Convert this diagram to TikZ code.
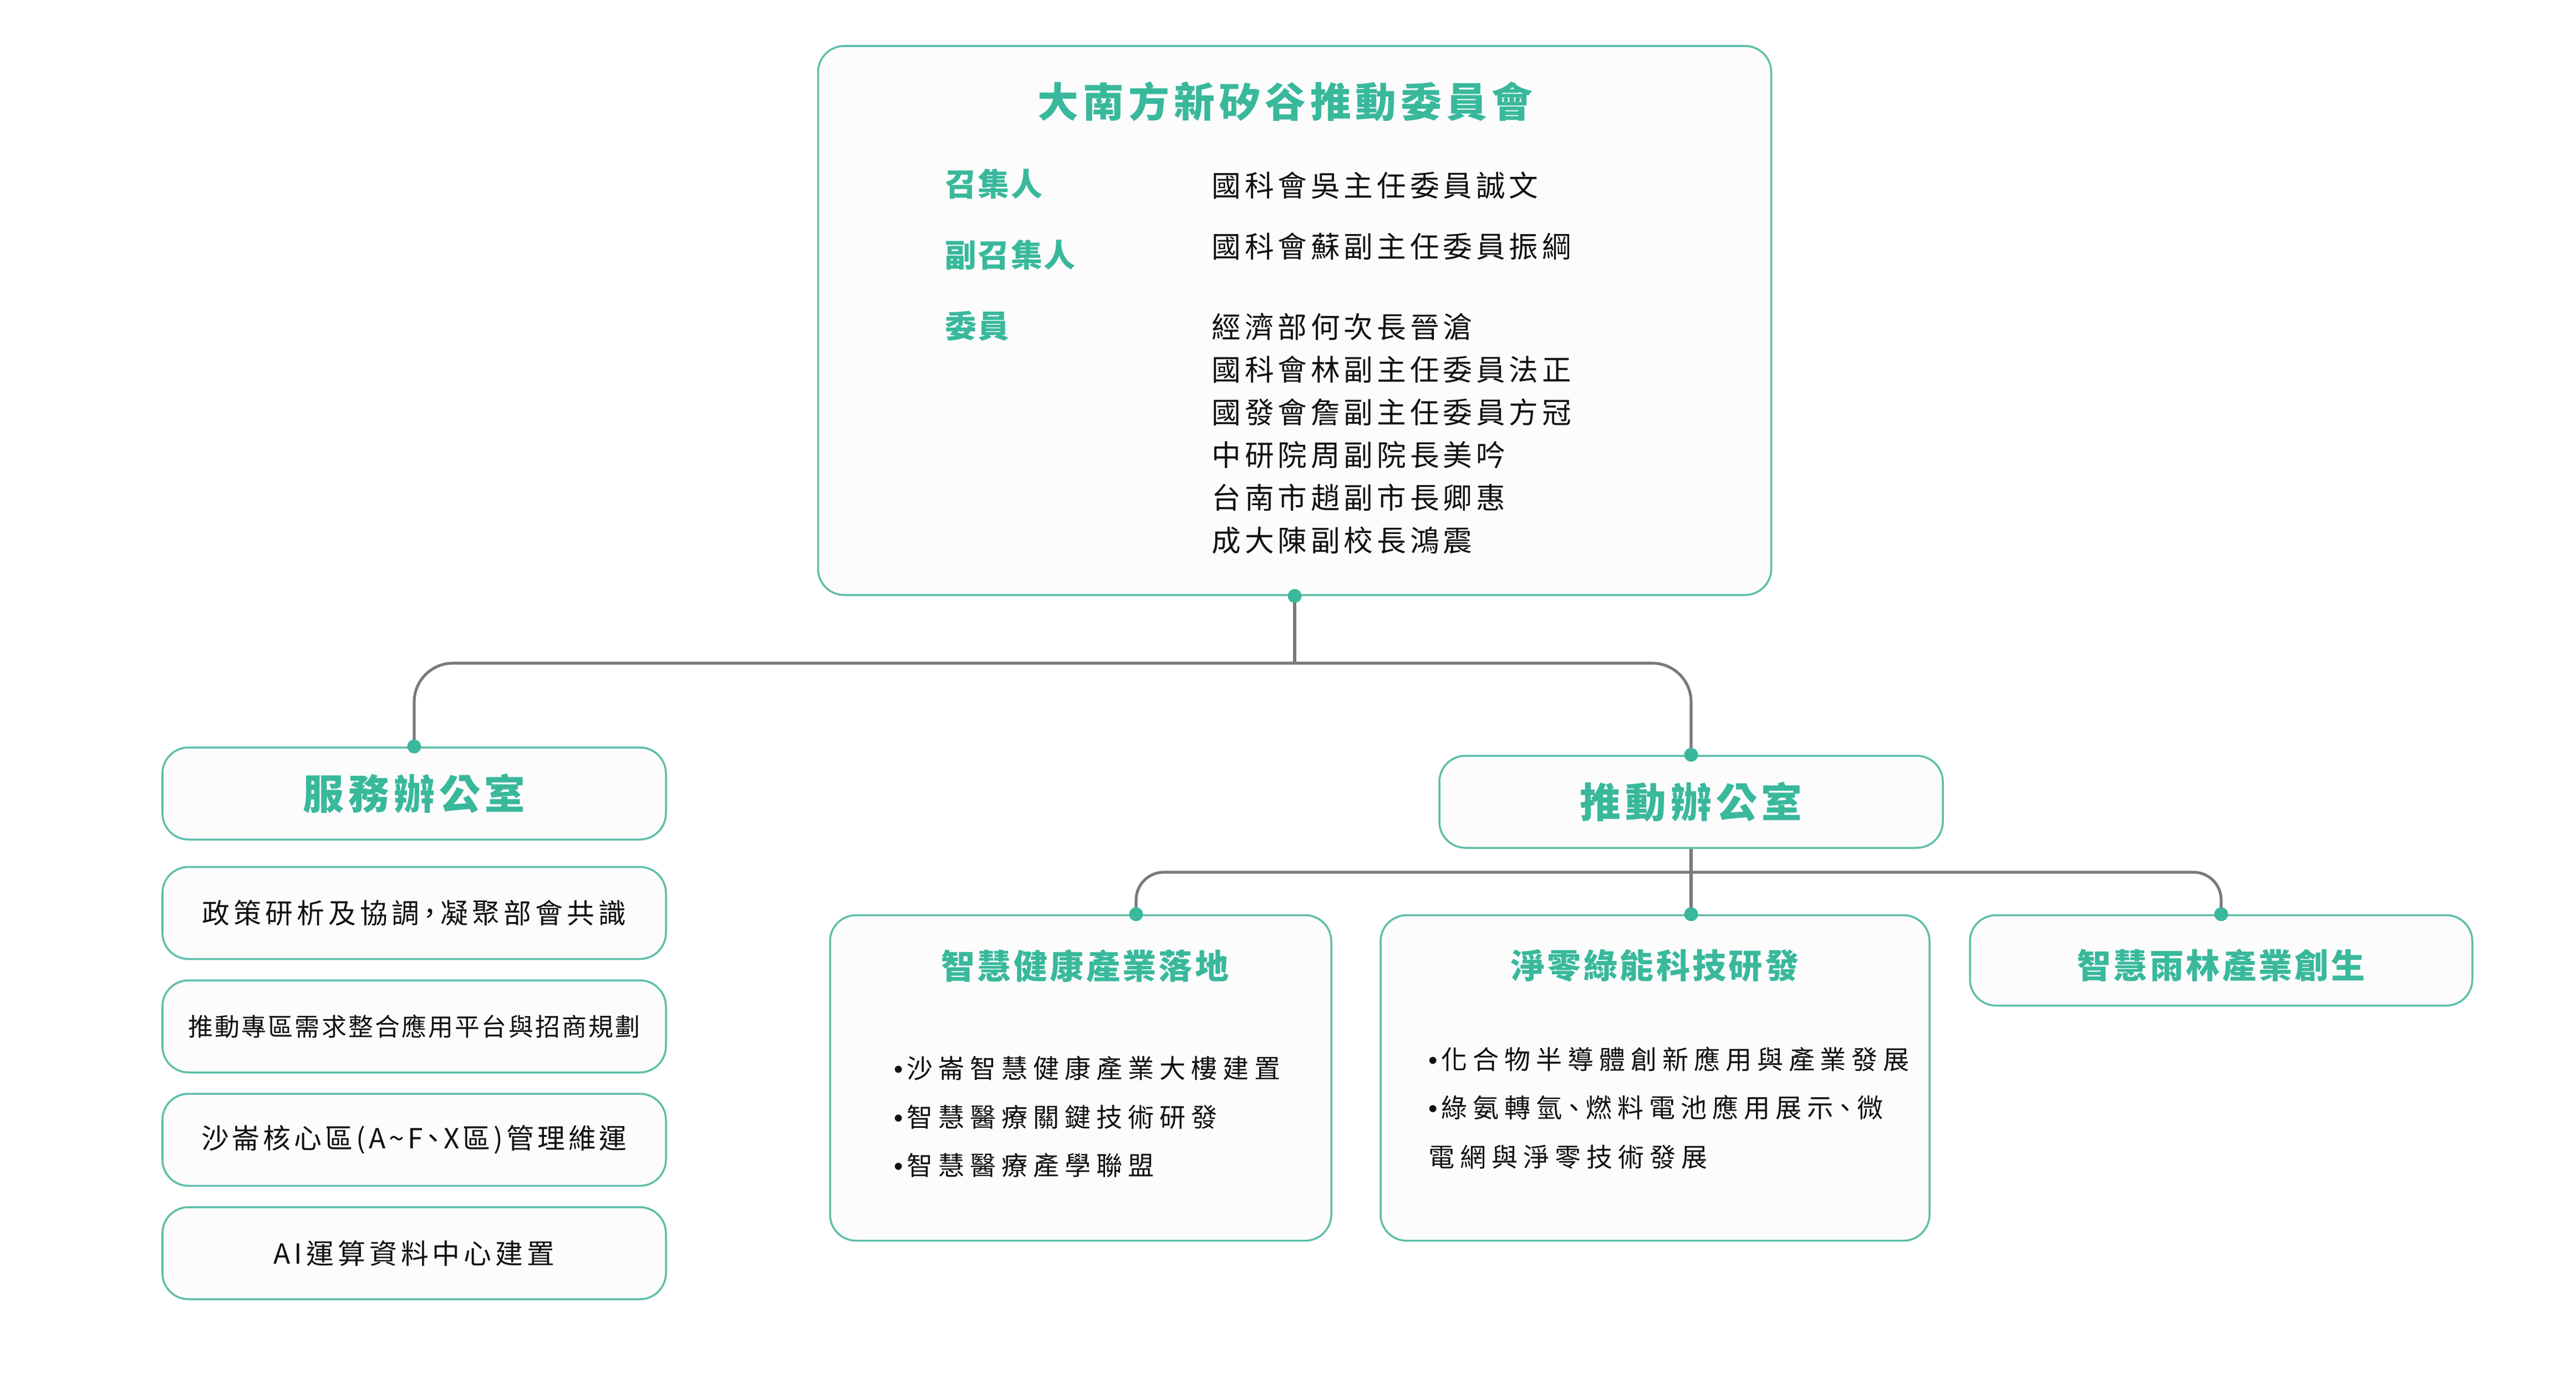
\documentclass[tikz,border=0pt]{standalone}
\usepackage{fontspec}
\setmainfont{Noto Sans CJK TC}
\newfontfamily\dotfont{Liberation Sans}
\usetikzlibrary{positioning}

\definecolor{leafgreen}{HTML}{39B89C}
\definecolor{boxline}{HTML}{5EBEAA}
\definecolor{boxfill}{HTML}{FCFCFC}
\definecolor{conngray}{HTML}{7A7A7A}
\definecolor{inkblack}{HTML}{111111}

% size, baseline skip, letter spacing
\newcommand\spaced[3]{\fontsize{#1}{#2}\selectfont\addfontfeature{LetterSpace=#3}}
\newcommand\narrowpunct{\addfontfeature{RawFeature=+palt}}
\newcommand\itemdot{{\dotfont •}\hspace{0.6mm}}

\tikzset{
  panel/.style={draw=boxline, line width=1pt, fill=boxfill, rounded corners=4.7mm, inner sep=0pt},
  unitbox/.style={panel, minimum width=9.08cm, minimum height=1.66cm},
  headtext/.style={text=leafgreen, font=\bfseries\spaced{21}{25}{11}},
  subhead/.style={text=leafgreen, font=\bfseries\spaced{17.4}{21}{7}},
  rolelabel/.style={text=leafgreen, anchor=west, inner sep=0pt, font=\bfseries\spaced{16.2}{19}{4}},
  member/.style={text=inkblack, anchor=west, inner sep=0pt, font=\spaced{15}{18}{13}},
  task/.style={text=inkblack, font=\spaced{14.2}{17}{14}\narrowpunct},
  point/.style={text=inkblack, anchor=west, inner sep=0pt, font=\spaced{13.4}{16}{21}\narrowpunct},
  conn/.style={draw=conngray, line width=1.45pt},
  joint/.style={circle, fill=leafgreen, inner sep=0pt, minimum size=2.5mm},
}

\begin{document}
\begin{tikzpicture}
	\path[fill=white] (0,0) rectangle (46.46,-25.05);

	% committee
	\node[panel, minimum width=17.19cm, minimum height=9.90cm] (board) at (23.35,-5.78) {};
	\node[headtext, inner sep=0pt] (boardtitle) at (23.18,-1.83) {大南方新矽谷推動委員會};
	\node[rolelabel] (convener) at (17.04,-3.32) {召集人};
	\node[rolelabel] (deputy) at (17.04,-4.60) {副召集人};
	\node[rolelabel] (members) at (17.04,-5.88) {委員};
	\node[member] (convname) at (21.85,-3.35) {國科會吳主任委員誠文};
	\node[member] (depname) at (21.85,-4.44) {國科會蘇副主任委員振綱};
	\foreach \who [count=\i] in {經濟部何次長晉滄, 國科會林副主任委員法正, 國發會詹副主任委員方冠, 中研院周副院長美吟, 台南市趙副市長卿惠, 成大陳副校長鴻震}
		\node[member] (m\i) at (21.85,{-5.12-0.77*\i}) {\who};

	% offices
	\node[unitbox, headtext] (serv) at (7.47,-14.31) {服務辦公室};
	\node[unitbox, task, below=4.6mm of serv] (task1) {政策研析及協調，凝聚部會共識};
	\node[unitbox, task, below=3.5mm of task1, font=\spaced{12.8}{15}{7}] (task2) {推動專區需求整合應用平台與招商規劃};
	\node[unitbox, task, below=3.5mm of task2, font=\spaced{14.2}{17}{12}\narrowpunct] (task3) {沙崙核心區(A\textasciitilde F、X區)管理維運};
	\node[unitbox, task, below=3.5mm of task3] (task4) {AI運算資料中心建置};

	\node[unitbox, headtext] (push) at (30.50,-14.46) {推動辦公室};

	% programmes
	\node[panel, minimum width=9.04cm, minimum height=5.87cm] (health) at (19.49,-19.44) {};
	\node[panel, minimum width=9.90cm, minimum height=5.87cm] (zero) at (29.85,-19.44) {};
	\node[unitbox, minimum width=9.06cm, minimum height=1.63cm] (rain) at (40.06,-17.32) {};
	\node[subhead, inner sep=0pt] (healthtitle) at (19.57,-17.42) {智慧健康產業落地};
	\node[subhead, inner sep=0pt] (zerotitle) at (29.85,-17.42) {淨零綠能科技研發};
	\node[subhead, inner sep=0pt] (raintitle) at ([yshift=-9.2mm]rain.north) {智慧雨林產業創生};

	\node[point] (h1) at (16.12,-19.27) {\itemdot 沙崙智慧健康產業大樓建置};
	\node[point] (h2) at (16.12,-20.15) {\itemdot 智慧醫療關鍵技術研發};
	\node[point] (h3) at (16.12,-21.02) {\itemdot 智慧醫療產學聯盟};
	\node[point] (z1) at (25.76,-19.10) {\itemdot 化合物半導體創新應用與產業發展};
	\node[point] (z2) at (25.76,-19.97) {\itemdot 綠氨轉氫、燃料電池應用展示、微};
	\node[point] (z3) at (25.76,-20.87) {電網與淨零技術發展};

	% connectors
	\coordinate (bus1) at (board.south |- 0,-11.96);
	\draw[conn] (board.south) -- (bus1);
	\draw[conn, rounded corners=7mm] (serv.north) |- (bus1) -| (push.north);
	\coordinate (bus2) at (push.south |- 0,-15.73);
	\coordinate (hdot) at ([xshift=10mm]health.north);
	\coordinate (zdot) at (push.south |- zero.north);
	\draw[conn] (push.south) -- (zdot);
	\draw[conn, rounded corners=5mm] (hdot) |- (bus2) -| (rain.north);

	\foreach \p [count=\k] in {board.south, serv.north, push.north, hdot, zdot, rain.north}
		\node[joint] (joint\k) at (\p) {};
\end{tikzpicture}
\end{document}
